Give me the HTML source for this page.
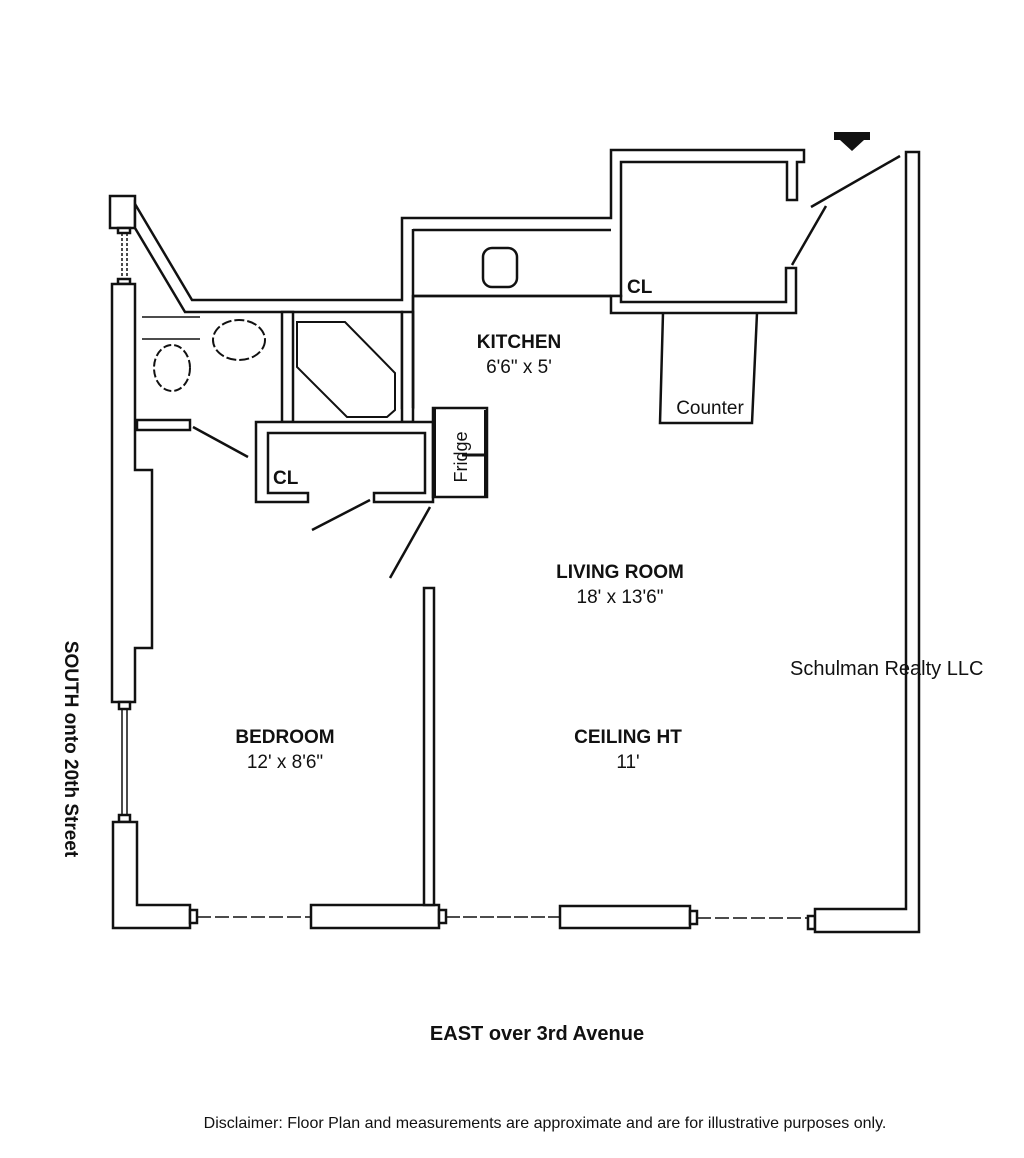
<!DOCTYPE html>
<html><head><meta charset="utf-8"><style>
html,body{margin:0;padding:0;background:#fff;}
svg{display:block;}
text{font-family:"Liberation Sans",Arial,sans-serif;fill:#111;}
.b{font-weight:bold;}
</style></head><body>
<svg width="1024" height="1158" viewBox="0 0 1024 1158" xmlns="http://www.w3.org/2000/svg">
<g fill="#fff" stroke="#111" stroke-width="2.5" stroke-linejoin="miter">
<rect x="110" y="196" width="25" height="32"/>
<rect x="118" y="228" width="12" height="5"/>
<line x1="122" y1="233" x2="122" y2="280" stroke-width="1.5" stroke-dasharray="3,2"/>
<line x1="127" y1="233" x2="127" y2="280" stroke-width="1.5" stroke-dasharray="3,2"/>
<rect x="118" y="279" width="12" height="5"/>
<polygon points="112,284 135,284 135,470 152,470 152,648 135,648 135,702 112,702"/>
<rect x="119" y="702" width="11" height="7"/>
<line x1="122" y1="709" x2="122" y2="818" stroke-width="1.5"/>
<line x1="127" y1="709" x2="127" y2="818" stroke-width="1.5"/>
<rect x="119" y="815" width="11" height="7"/>
<polygon points="113,822 137,822 137,905 190,905 190,928 113,928"/>
<rect x="190" y="910" width="7" height="13"/>
<line x1="197" y1="917" x2="311" y2="917" stroke-width="1.5" stroke-dasharray="14,4"/>
<rect x="311" y="905" width="128" height="23"/>
<rect x="439" y="910" width="7" height="13"/>
<line x1="446" y1="917" x2="560" y2="917" stroke-width="1.5" stroke-dasharray="14,3"/>
<rect x="560" y="906" width="130" height="22"/>
<rect x="690" y="911" width="7" height="13"/>
<line x1="697" y1="918" x2="808" y2="918" stroke-width="1.5" stroke-dasharray="14,4"/>
<rect x="808" y="916" width="7" height="13"/>
<polygon points="815,909 906,909 906,152 919,152 919,932 815,932"/>
<rect x="424" y="588" width="10" height="317"/>
<polygon points="135,204 192,300 402,300 402,218 611,218 611,150 804,150 804,162 797,162 797,200 787,200 787,162 621,162 621,296 413,296 413,408 402,408 402,312 185,312 135,228"/>
<rect x="402" y="312" width="11" height="110"/>
<line x1="413" y1="229" x2="413" y2="408"/>
<rect x="282" y="312" width="11" height="110"/>
<polygon points="256,422 433,422 433,502 374,502 374,493 425,493 425,433 268,433 268,493 308,493 308,502 256,502"/>
<rect x="137" y="420" width="53" height="10"/>
<line x1="413" y1="230" x2="611" y2="230"/>
<line x1="413" y1="296" x2="611" y2="296"/>
<rect x="483" y="248" width="34" height="39" rx="9"/>
<polygon points="611,296 621,296 621,302 786,302 786,268 796,268 796,313 611,313"/>
<rect x="433" y="408" width="54" height="89"/>
<line x1="434" y1="408" x2="434" y2="497" stroke-width="4"/>
<line x1="486" y1="410" x2="486" y2="497" stroke-width="4"/>
<line x1="462" y1="455" x2="487" y2="455" stroke-width="3"/>
<polyline points="663,313 660,423 752,423 757,313" fill="none"/>
</g>
<g fill="none" stroke="#111" stroke-width="2.5">
<line x1="193" y1="427" x2="248" y2="457"/>
<line x1="312" y1="530" x2="370" y2="500"/>
<line x1="390" y1="578" x2="430" y2="507"/>
<line x1="792" y1="265" x2="826" y2="206"/>
<line x1="811" y1="207" x2="900" y2="156"/>
<line x1="142" y1="317" x2="200" y2="317" stroke-width="1.5"/>
<line x1="142" y1="339" x2="200" y2="339" stroke-width="1.5"/>
<ellipse cx="172" cy="368" rx="18" ry="23" stroke-width="2" stroke-dasharray="8,3"/>
<ellipse cx="239" cy="340" rx="26" ry="20" stroke-width="2" stroke-dasharray="10,3"/>
<polygon points="297,322 345,322 395,373 395,410 387,417 347,417 297,367" stroke-width="2"/>
</g>
<polygon points="834,132 870,132 870,140 864,140 852,151 840,140 834,140" fill="#111"/>
<text x="519" y="348" font-size="19" class="b" text-anchor="middle">KITCHEN</text>
<text x="519" y="373" font-size="19" text-anchor="middle">6'6" x 5'</text>
<text x="710" y="414" font-size="19" text-anchor="middle">Counter</text>
<text x="461" y="457" font-size="18" text-anchor="middle" transform="rotate(-90 461 457)" dy="6">Fridge</text>
<text x="273" y="484" font-size="19" class="b">CL</text>
<text x="627" y="293" font-size="19" class="b">CL</text>
<text x="620" y="578" font-size="19" class="b" text-anchor="middle">LIVING ROOM</text>
<text x="620" y="603" font-size="19" text-anchor="middle">18' x 13'6"</text>
<text x="285" y="743" font-size="19" class="b" text-anchor="middle">BEDROOM</text>
<text x="285" y="768" font-size="19" text-anchor="middle">12' x 8'6"</text>
<text x="628" y="743" font-size="19" class="b" text-anchor="middle">CEILING HT</text>
<text x="628" y="768" font-size="19" text-anchor="middle">11'</text>
<text x="790" y="675" font-size="20">Schulman Realty LLC</text>
<text x="72" y="749" font-size="19" class="b" text-anchor="middle" transform="rotate(90 72 749)" dy="7">SOUTH onto 20th Street</text>
<text x="537" y="1040" font-size="20" class="b" text-anchor="middle">EAST over 3rd Avenue</text>
<text x="545" y="1128" font-size="16" text-anchor="middle">Disclaimer: Floor Plan and measurements are approximate and are for illustrative purposes only.</text>
</svg>
</body></html>
